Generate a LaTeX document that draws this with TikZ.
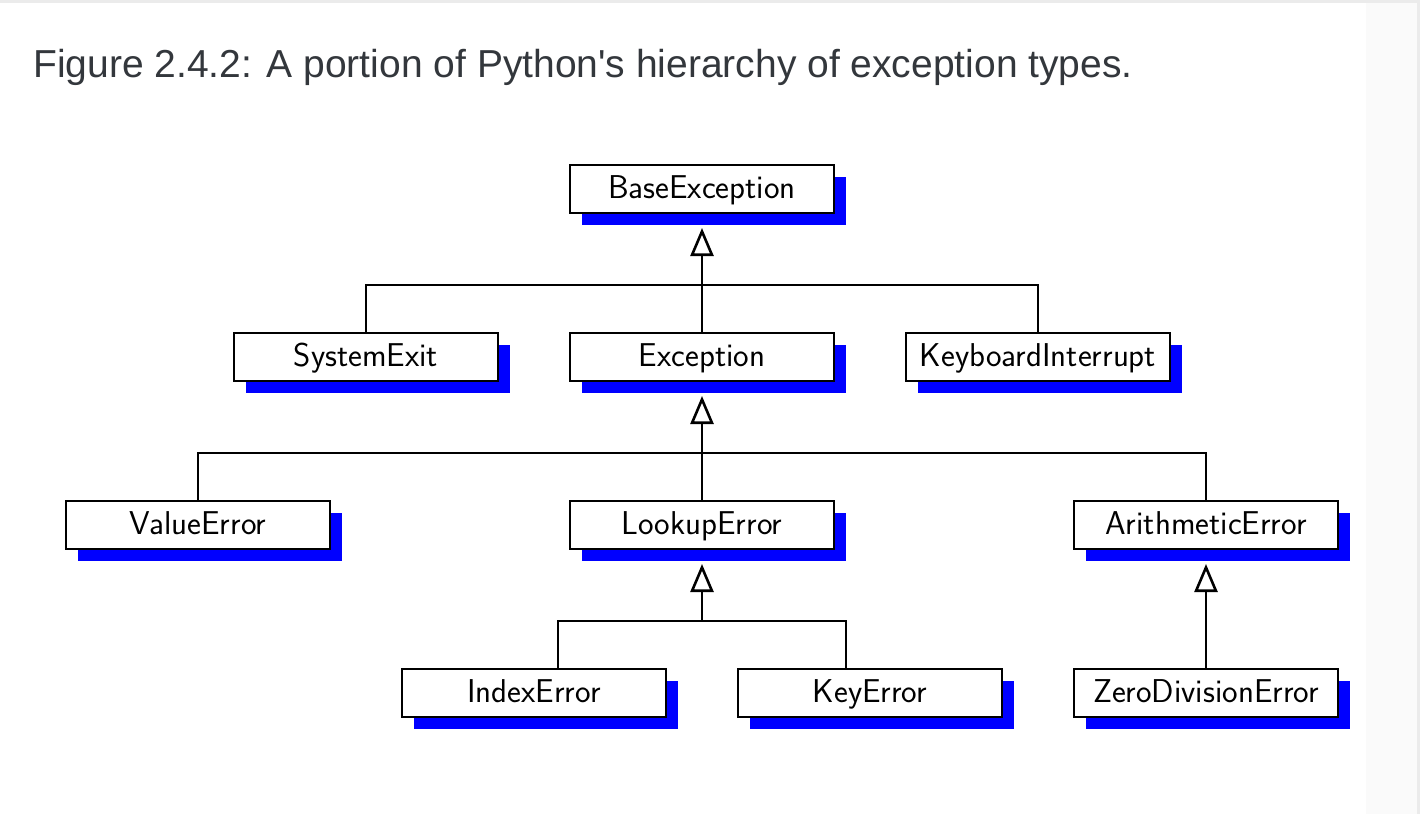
\documentclass[tikz,border=0pt]{standalone}
\usepackage{fontspec}
\setmainfont{Liberation Sans}
\newfontfamily\capfont{Liberation Sans}[Ligatures=TeXOff]
\usetikzlibrary{arrows.meta,shadows}
\definecolor{captiongray}{HTML}{33373C}
\definecolor{edgegray}{HTML}{EBEBEB}
\definecolor{stripgray}{HTML}{FAFAFA}
\begin{document}
\begin{tikzpicture}[x=0.5pt,y=-0.5pt,
  cls/.style={draw=black, line width=1.3pt, fill=white, rectangle,
    minimum width=132pt, minimum height=24pt, inner sep=0pt,
    text height=12pt, text depth=3pt,
    font=\sffamily\fontsize{16.5}{19}\selectfont,
    general shadow={fill=blue, shadow xshift=6pt, shadow yshift=-6pt}},
  conn/.style={draw=black, line width=1.3pt},
  inh/.style={conn, -{Triangle[open, length=14pt, width=11.5pt, line width=1.3pt]}}]
\useasboundingbox (0,0) rectangle (1420,814);
\fill[white] (0,0) rectangle (1420,814);
\fill[stripgray] (1366,0) rectangle (1420,814);
\fill[edgegray] (0,0) rectangle (1420,3);
\fill[edgegray] (1417,0) rectangle (1420,814);
\node[anchor=base west, inner sep=0pt, text=captiongray,
  font=\capfont\fontsize{19.5}{22}\selectfont] (cap) at (33,77)
  {Figure 2.4.2: A portion of Python's hierarchy of exception types.};
% classes
\node[cls] (base) at (702,189) {BaseException};
\node[cls] (sys) at (366,357) {SystemExit};
\node[cls] (exc) at (702,357) {Exception};
\node[cls] (kbd) at (1038,357) {KeyboardInterrupt};
\node[cls] (val) at (198,525) {ValueError};
\node[cls] (look) at (702,525) {LookupError};
\node[cls] (arith) at (1206,525) {ArithmeticError};
\node[cls] (idx) at (534,693) {IndexError};
\node[cls] (key) at (870,693) {KeyError};
\node[cls] (zero) at (1206,693) {ZeroDivisionError};
% arrow tips and buses
\coordinate (tBase) at (702,228);
\coordinate (tExc) at (702,396);
\coordinate (tLook) at (702,564);
\coordinate (tArith) at (1206,564);
\coordinate (b1) at (702,285);
\coordinate (b2) at (702,453);
\coordinate (b3) at (702,621);
\coordinate (idxTop) at (558,669);
\coordinate (keyTop) at (846,669);
% connectors
\draw[inh] (b1) -- (tBase);
\draw[conn] (sys.north) |- (b1) -| (kbd.north);
\draw[conn] (exc.north) -- (b1);
\draw[inh] (b2) -- (tExc);
\draw[conn] (val.north) |- (b2) -| (arith.north);
\draw[conn] (look.north) -- (b2);
\draw[inh] (b3) -- (tLook);
\draw[conn] (idxTop) |- (b3) -| (keyTop);
\draw[inh] (zero.north) -- (tArith);
\end{tikzpicture}
\end{document}
